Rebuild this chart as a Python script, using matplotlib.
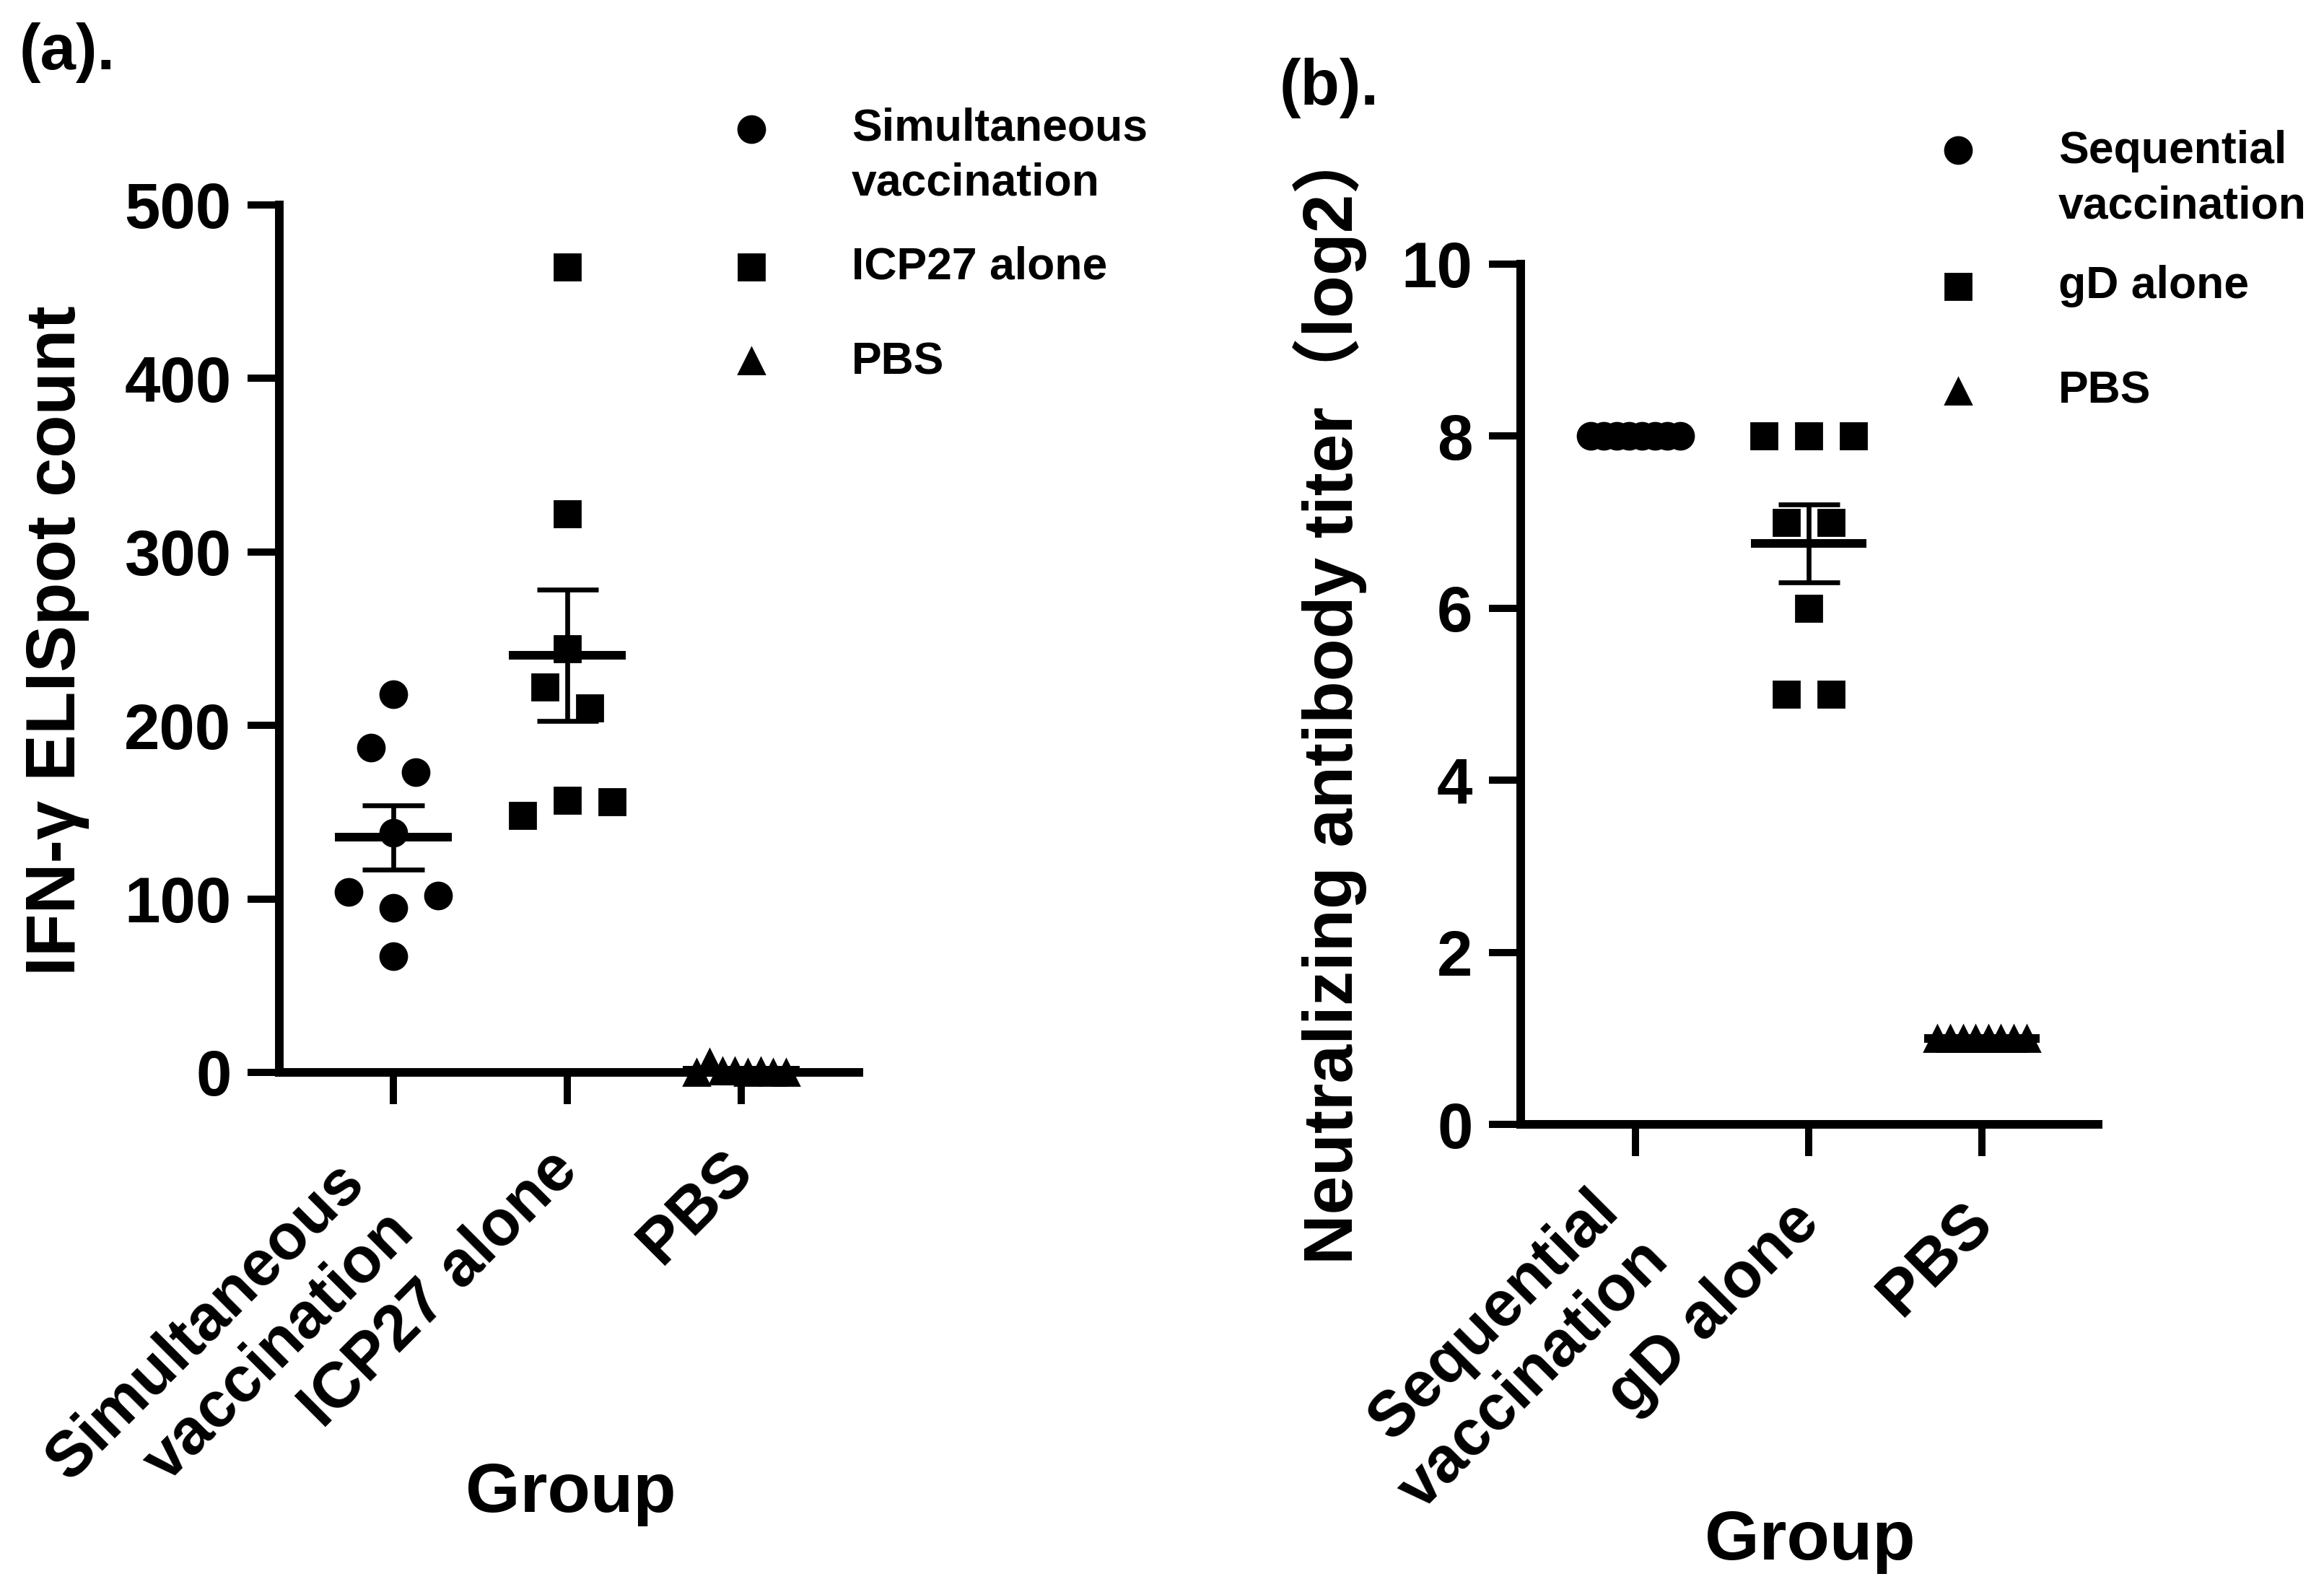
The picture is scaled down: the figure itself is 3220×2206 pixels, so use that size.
import numpy as np
import matplotlib
matplotlib.use("Agg")
import matplotlib.pyplot as plt
from matplotlib.lines import Line2D
from matplotlib.transforms import ScaledTranslation

plt.rcParams['font.family'] = ['Liberation Sans', 'Noto Sans CJK SC', 'DejaVu Sans']
plt.rcParams['font.weight'] = 'bold'

# ---------------- data ----------------
groups_a = ["Simultaneous\nvaccination", "ICP27 alone", "PBS"]
simultaneous = [218, 187, 173, 138, 104, 95, 102, 67]
icp27_alone = [464, 322, 244, 222, 210, 148, 157, 156]
pbs_a = [0, 6, 1, 1, 0, 1, 0, 0]
yticks_a = [0, 100, 200, 300, 400, 500]

groups_b = ["Sequential\nvaccination", "gD alone", "PBS"]
sequential = [8, 8, 8, 8, 8, 8, 8, 8]
gd_alone = [8, 8, 8, 7, 7, 6, 5, 5]
pbs_b = [1, 1, 1, 1, 1, 1, 1, 1]
yticks_b = [0, 2, 4, 6, 8, 10]

markers = ['o', 's', '^']

W, H, DPI = 3220, 2206, 200
fig = plt.figure(figsize=(W / DPI, H / DPI), dpi=DPI)

MS = 13.3          # marker size (pt)
MS_PX = MS * DPI / 72
STEP = 0.257       # swarm step (category units)
HALF = 0.257       # max swarm half width
LW_AX = 4.3


def swarm_offsets(vals, thr):
    vals = np.asarray(vals, float)
    order = np.argsort(vals, kind='stable')
    rows, cur = [], [order[0]]
    for a, b in zip(order[:-1], order[1:]):
        if vals[b] - vals[a] < thr:
            cur.append(b)
        else:
            rows.append(cur)
            cur = [b]
    rows.append(cur)
    off = np.zeros(len(vals))
    for r in rows:
        r = sorted(r)
        n = len(r)
        if n == 1:
            continue
        step = min(STEP, 2 * HALF / (n - 1))
        for k, idx in enumerate(r):
            off[idx] = (k - (n - 1) / 2) * step
    return off


def panel(rect, xlim, groups, data, ylim, yticks, multi_off):
    ax = fig.add_axes(rect)
    ax.set_xlim(*xlim)
    ax.set_ylim(*ylim)
    ax_h_px = rect[3] * H
    px_per_unit = ax_h_px / (ylim[1] - ylim[0])
    thr = MS_PX / px_per_unit
    for i, vals in enumerate(data):
        off = swarm_offsets(vals, thr)
        ax.plot(i + off, vals, linestyle='none', marker=markers[i], ms=MS,
                color='black', clip_on=False, zorder=3)
        m = np.mean(vals)
        sem = np.std(vals, ddof=1) / np.sqrt(len(vals))
        ax.hlines(m, i - 0.335, i + 0.335, color='black', lw=4.3, zorder=4,
                  capstyle='butt')
        ax.vlines(i, m - sem, m + sem, color='black', lw=2.4, zorder=4)
        ax.hlines([m - sem, m + sem], i - 0.177, i + 0.177, color='black', lw=2.4,
                  zorder=4)
    for s in ['top', 'right']:
        ax.spines[s].set_visible(False)
    for s in ['left', 'bottom']:
        ax.spines[s].set_linewidth(LW_AX)
        ax.spines[s].set_capstyle('projecting')
    ax.set_yticks(yticks)
    ax.set_yticklabels([str(t) for t in yticks], fontsize=32, fontweight='bold')
    ax.set_xticks(range(len(groups)))
    ax.tick_params(axis='y', direction='out', length=16, width=3.6, pad=8)
    ax.tick_params(axis='x', direction='out', length=16, width=3.6, pad=14)
    ax.set_xticklabels(groups, rotation=45, ha='right', rotation_mode='anchor',
                       fontsize=32, fontweight='bold')
    # nudge rotated labels (pixel offsets)
    for lbl in ax.get_xticklabels():
        if '\n' in lbl.get_text():
            dx, dy = multi_off
        else:
            dx, dy = -28, 10
        lbl.set_transform(lbl.get_transform() +
                          ScaledTranslation(dx / DPI, -dy / DPI, fig.dpi_scale_trans))
    return ax


ax_a = panel([0.1202, 0.3264, 0.3696 - 0.1202, 0.8713 - 0.3264], (-0.656, 2.676),
             groups_a, [simultaneous, icp27_alone, pbs_a], (0, 500), yticks_a,
             (-83, 27))
ax_b = panel([0.6544, 0.2937, 0.9028 - 0.6544, 0.8341 - 0.2937], (-0.6625, 2.671),
             groups_b, [sequential, gd_alone, pbs_b], (0, 10), yticks_b,
             (-66, -7))

# axis labels
fig.text(79 / W, 1 - 888 / H, "IFN-γ ELISpot count", rotation=90, ha='center',
         va='center', fontsize=35, fontweight='bold')
fig.text(1843 / W, 1 - 962 / H, "Neutralizing antibody titer（log2）", rotation=90,
         ha='center', va='center', fontsize=34.7, fontweight='bold')
fig.text(791 / W, 1 - 2070 / H, "Group", ha='center', va='center', fontsize=35,
         fontweight='bold')
fig.text(2508 / W, 1 - 2136 / H, "Group", ha='center', va='center', fontsize=35,
         fontweight='bold')

# panel letters
fig.text(27 / W, 1 - 96 / H, "(a).", ha='left', va='baseline', fontsize=32,
         fontweight='bold')
fig.text(1773 / W, 1 - 145 / H, "(b).", ha='left', va='baseline', fontsize=32,
         fontweight='bold')


# legends
def legend(mx, tx, ys, labels, text_ys):
    for m, y in zip(markers, ys):
        fig.add_artist(Line2D([mx / W], [1 - y / H], marker=m, ms=MS,
                              color='black', linestyle='none',
                              transform=fig.transFigure))
    for lab, y in zip(labels, text_ys):
        fig.text(tx / W, 1 - y / H, lab, ha='left', va='center', fontsize=22.5,
                 fontweight='bold', linespacing=1.38)


legend(1041, 1180, [179, 370, 500],
       ["Simultaneous\nvaccination", "ICP27 alone", "PBS"], [216, 370, 502])
legend(2713, 2852, [208, 397, 542],
       ["Sequential\nvaccination", "gD alone", "PBS"], [248, 397, 542])

fig.savefig("out.png", dpi=DPI, facecolor='white')
